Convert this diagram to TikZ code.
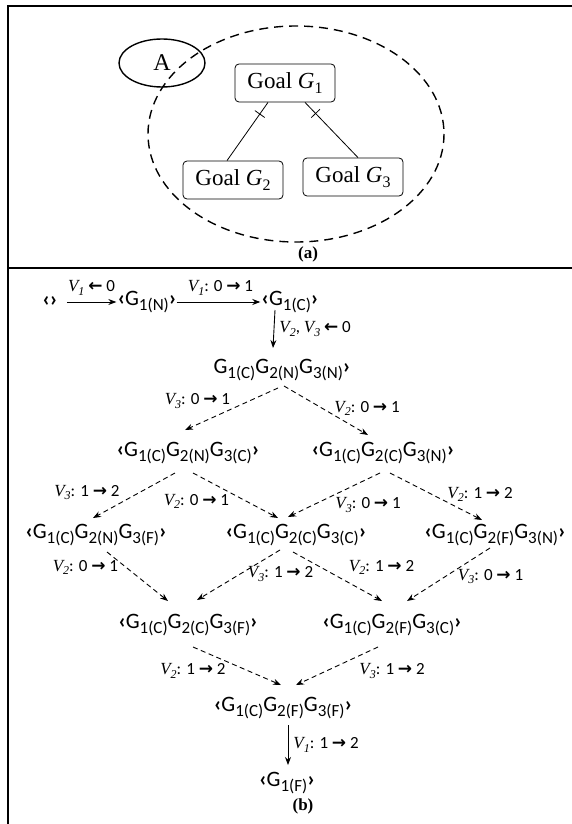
\documentclass[tikz,border=0pt]{standalone}
\usepackage{fontspec}
\usepackage{tikz}
\usetikzlibrary{arrows.meta,shapes.geometric,calc}
\setmainfont{Liberation Serif}
\newfontfamily\calfont{Carlito}
\newfontfamily\symfont{DejaVu Sans}
\newcommand{\gsub}[2]{G\raisebox{-0.2em}{\fontsize{17}{17}\selectfont #1(#2)}}
\newcommand{\lang}{{\bfseries ‹}}
\newcommand{\rang}{{\bfseries ›}}
\newcommand{\goalsub}[1]{{\itshape G}\raisebox{-0.22em}{\fontsize{16}{16}\selectfont #1}}
\newcommand{\vlab}[1]{{\rmfamily\itshape V\raisebox{-0.22em}{\fontsize{12}{12}\selectfont #1}}}
\newcommand{\rarr}{{\symfont\bfseries →}}
\newcommand{\larr}{{\symfont\bfseries ←}}

\begin{document}
\begin{tikzpicture}[x=1pt, y=-1pt,
    goal/.style={draw, rounded corners=4pt, line width=0.8pt, minimum width=100pt, minimum height=38pt, inner sep=0pt, font=\fontsize{23}{23}\selectfont},
    stnode/.style={inner sep=0pt, font=\calfont\fontsize{22}{22}\selectfont},
    lbl/.style={inner sep=0pt, font=\calfont\fontsize{17}{17}\selectfont},
    arr/.style={-{Stealth[length=8pt,width=6pt]}, line width=0.9pt},
    darr/.style={arr, dash pattern=on 5pt off 3.5pt},
    hatch/.style={draw, line width=0.8pt, minimum width=0pt, minimum height=12pt, inner sep=0pt, sloped, pos=0.2},
    panel/.style={font=\bfseries\fontsize{17}{17}\selectfont}
]
    \useasboundingbox (0,0) rectangle (572,824);
    \draw[line width=2pt] (8,824) -- (8,6) -- (572,6);
    \draw[line width=2pt] (8,268) -- (572,268);

    % (a)
    \draw[dash pattern=on 9pt off 6pt, line width=1.4pt] (296,134) ellipse [x radius=148, y radius=108];
    \node[ellipse, draw, line width=1.4pt, minimum width=86pt, minimum height=48pt, inner sep=0pt, font=\fontsize{24}{24}\selectfont] (agent) at (162,63) {A};
    \node[goal] (g1) at (285,83) {Goal \goalsub{1}};
    \node[goal] (g2) at (233,180) {Goal \goalsub{2}};
    \node[goal] (g3) at (353,177) {Goal \goalsub{3}};
    \draw[line width=0.8pt] ([xshift=-17pt]g1.south) -- ([xshift=-6pt]g2.north) node[hatch] {};
    \draw[line width=0.8pt] ([xshift=20pt]g1.south) -- ([xshift=5pt]g3.north) node[hatch] {};
    \node[panel] (capa) at (308,254) {(a)};

    % (b)
    \node[stnode] (empty) at (50,302) {\lang\rang};
    \node[stnode] (gn) at (147,302) {\lang\gsub{1}{N}\rang};
    \node[stnode] (gc) at (290,302) {\lang\gsub{1}{C}\rang};
    \node[stnode] (cnn) at (282,370) {\gsub{1}{C}\gsub{2}{N}\gsub{3}{N}\rang};
    \node[stnode] (cnc) at (188,453) {\lang\gsub{1}{C}\gsub{2}{N}\gsub{3}{C}\rang};
    \node[stnode] (ccn) at (383,453) {\lang\gsub{1}{C}\gsub{2}{C}\gsub{3}{N}\rang};
    \node[stnode] (cnf) at (96,535) {\lang\gsub{1}{C}\gsub{2}{N}\gsub{3}{F}\rang};
    \node[stnode] (ccc) at (296,535) {\lang\gsub{1}{C}\gsub{2}{C}\gsub{3}{C}\rang};
    \node[stnode] (cfn) at (495,535) {\lang\gsub{1}{C}\gsub{2}{F}\gsub{3}{N}\rang};
    \node[stnode] (ccf) at (188,625) {\lang\gsub{1}{C}\gsub{2}{C}\gsub{3}{F}\rang};
    \node[stnode] (cfc) at (392,625) {\lang\gsub{1}{C}\gsub{2}{F}\gsub{3}{C}\rang};
    \node[stnode] (cff) at (283,708) {\lang\gsub{1}{C}\gsub{2}{F}\gsub{3}{F}\rang};
    \node[stnode] (gf) at (287,783) {\lang\gsub{1}{F}\rang};
    \node[panel] (capb) at (303,806) {(b)};

    \draw[arr] ([xshift=9pt]empty.east) -- ([xshift=-1pt]gn.west)
        node[lbl, midway, anchor=south, yshift=6pt] {\vlab{1} \larr{} 0};
    \draw[arr] (gn.east) -- ([xshift=-1pt]gc.west)
        node[lbl, midway, anchor=south, xshift=2pt, yshift=6pt] {\vlab{1}: 0 \rarr{} 1};
    \draw[arr] ([shift={(-15,8)}]gc.center) -- ([shift={(-9,-22)}]cnn.center)
        node[lbl, midway, anchor=west, xshift=5pt] {\vlab{2}, \vlab{3} \larr{} 0};

    \draw[darr] ([shift={(-4,18)}]cnn.center) -- ([shift={(-3,-23)}]cnc.center)
        node[lbl, midway, anchor=south east, xshift=-1pt] {\vlab{3}: 0 \rarr{} 1};
    \draw[darr] ([shift={(2,16)}]cnn.center) -- ([shift={(-15,-18)}]ccn.center)
        node[lbl, midway, anchor=west, xshift=8pt, yshift=2pt] {\vlab{2}: 0 \rarr{} 1};

    \draw[darr] ([shift={(-13,20)}]cnc.center) -- ([shift={(-3,-17)}]cnf.center)
        node[lbl, midway, anchor=east, xshift=-14pt, yshift=3pt] {\vlab{3}: 1 \rarr{} 2};
    \draw[darr] ([shift={(5,20)}]cnc.center) -- ([shift={(-18,-17)}]ccc.center)
        node[lbl, midway, anchor=east, xshift=-6pt, yshift=-6pt] {\vlab{2}: 0 \rarr{} 1};
    \draw[darr] ([shift={(-3,20)}]ccn.center) -- ([shift={(-8,-18)}]ccc.center)
        node[lbl, midway, anchor=west, xshift=1pt, yshift=-10pt] {\vlab{3}: 0 \rarr{} 1};
    \draw[darr] ([shift={(7,20)}]ccn.center) -- ([shift={(-13,-15)}]cfn.center)
        node[lbl, midway, anchor=west, xshift=11pt, yshift=2pt] {\vlab{2}: 1 \rarr{} 2};

    \draw[darr] ([shift={(11,17)}]cnf.center) -- ([shift={(-20,-24)}]ccf.center)
        node[lbl, midway, anchor=east, xshift=-19pt, yshift=9pt] {\vlab{2}: 0 \rarr{} 1};
    \draw[darr] ([shift={(-16,15)}]ccc.center) -- ([shift={(9,-25)}]ccf.center)
        node[lbl, midway, anchor=west, xshift=9pt, yshift=1pt] {\vlab{3}: 1 \rarr{} 2};
    \draw[darr] ([shift={(-3,17)}]ccc.center) -- ([shift={(-10,-24)}]cfc.center)
        node[lbl, midway, anchor=west, xshift=11pt, yshift=9pt] {\vlab{2}: 1 \rarr{} 2};
    \draw[darr] ([shift={(-5,13)}]cfn.center) -- ([shift={(15,-24)}]cfc.center)
        node[lbl, midway, anchor=west, xshift=9pt, yshift=-2pt] {\vlab{3}: 0 \rarr{} 1};

    \draw[darr] ([shift={(5,22)}]ccf.center) -- ([shift={(-2,-23)}]cff.center)
        node[lbl, midway, anchor=east, xshift=-11pt, yshift=-5pt] {\vlab{2}: 1 \rarr{} 2};
    \draw[darr] ([shift={(-14,22)}]cfc.center) -- ([shift={(13,-23)}]cff.center)
        node[lbl, midway, anchor=west, xshift=22pt, yshift=-5pt] {\vlab{3}: 1 \rarr{} 2};
    \draw[arr] ([shift={(5,17)}]cff.center) -- ([shift={(1,-18)}]gf.center)
        node[lbl, midway, anchor=west, xshift=5pt] {\vlab{1}: 1 \rarr{} 2};
\end{tikzpicture}
\end{document}
